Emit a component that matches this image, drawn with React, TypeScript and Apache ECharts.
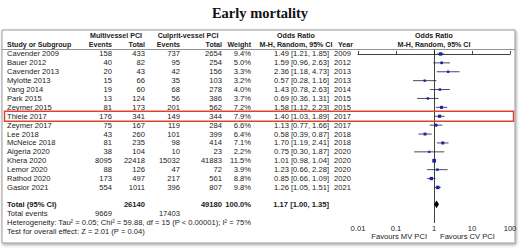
import React, { useEffect, useRef } from "react";
import * as echarts from "echarts";

const studies = ["Cavender 2009","Bauer 2012","Cavender 2013","Mylotte 2013","Yang 2014","Park 2015","Zeymer 2015","Thiele 2017","Zeymer 2017","Lee 2018","McNeice 2018","Algeria 2020","Khera 2020","Lemor 2020","Rathod 2020","Gasior 2021"];
const mvEvents = [158,40,20,15,19,13,81,176,75,43,81,38,8095,88,173,554];
const mvTotal = [433,82,43,66,60,124,173,341,167,260,235,104,22418,126,497,1011];
const cvEvents = [737,95,42,35,68,56,201,149,119,101,98,10,15032,47,217,396];
const cvTotal = [2654,254,156,103,278,386,562,344,284,399,414,23,41883,72,561,807];
const weights = [9.4,5.0,3.3,3.2,4.0,3.7,7.2,7.9,6.6,6.4,7.1,2.2,11.5,3.9,8.8,9.8];
const oddsRatio = [1.49,1.59,2.36,0.57,1.43,0.69,1.58,1.40,1.13,0.58,1.70,0.75,1.01,1.23,0.85,1.26];
const ciLow = [1.21,0.96,1.18,0.28,0.78,0.36,1.12,1.03,0.77,0.39,1.19,0.30,0.98,0.66,0.66,1.05];
const ciHigh = [1.85,2.63,4.73,1.16,2.63,1.31,2.23,1.89,1.66,0.87,2.41,1.87,1.04,2.28,1.09,1.51];
const years = [2009,2012,2013,2013,2014,2015,2015,2017,2017,2018,2018,2020,2020,2020,2020,2021];

const totalLabel = "Total (95% CI)";
const totalMv = 26140;
const totalCv = 49180;
const totalWeight = "100.0%";
const totalOr = 1.17;
const totalLow = 1.0;
const totalHigh = 1.35;
const totalEventsMv = 9669;
const totalEventsCv = 17403;
const heterogeneityText = "Heterogeneity: Tau\u00b2 = 0.05; Chi\u00b2 = 59.88, df = 15 (P < 0.00001); I\u00b2 = 75%";
const overallText = "Test for overall effect: Z = 2.01 (P = 0.04)";
const tickLabels = ["0.01", "0.1", "1", "10", "100"];
const highlighted = "Thiele 2017";

const FONT = '"Liberation Sans", Arial, sans-serif';
const FS = 7.6;
const HFS = 7.1;
const TXT = "#222";

const GRID_TOP = 49.5;
const ROW_H = 8.9;
const Y_MIN = -0.5;
const Y_MAX = 19;
const TOTAL_ROW = 16.9;
const rowY = (i: number) => GRID_TOP + (i - Y_MIN) * ROW_H;

const fmt2 = (v: number) => v.toFixed(2);
const ciText = (o: number, l: number, h: number) => `${fmt2(o)} [${fmt2(l)}, ${fmt2(h)}]`;

function txt(text: string, x: number, y: number, align: string, bold = false, size = FS) {
  return {
    type: "text",
    x,
    y,
    silent: true,
    style: {
      text,
      fontFamily: FONT,
      fontSize: size,
      fontWeight: bold ? "bold" : "normal",
      fill: TXT,
      align,
      verticalAlign: "middle",
    },
  };
}
const head = (text: string, x: number, y: number, align: string) => txt(text, x, y, align, true, HFS);

const COL = {
  name: 7,
  mvE: 112,
  mvT: 145,
  cvE: 180,
  cvT: 222,
  w: 251,
  or: 329,
  year: 334,
};

export default function App() {
  const ref = useRef<HTMLDivElement>(null);
  useEffect(() => {
    if (!ref.current) return;
    const chart = echarts.init(ref.current, undefined, { renderer: "svg" });

    const graphics: any[] = [];
    graphics.push({
      type: "rect",
      z: -10,
      shape: { x: 2, y: 30, width: 513, height: 213 },
      style: { fill: "#fff", stroke: "#9a9a9a", lineWidth: 1, shadowBlur: 3, shadowColor: "rgba(0,0,0,0.35)", shadowOffsetX: 1, shadowOffsetY: 1.5 },
    });
    graphics.push({
      type: "line",
      shape: { x1: 2, y1: GRID_TOP, x2: 515, y2: GRID_TOP },
      style: { stroke: "#777", lineWidth: 0.8 },
    });
    graphics.push({
      type: "text",
      x: 260,
      y: 13,
      style: { text: "Early mortality", fontFamily: '"Liberation Serif", serif', fontSize: 14.5, fontWeight: "bold", fill: "#111", align: "center", verticalAlign: "middle" },
    });
    const h1 = 36, h2 = 45;
    graphics.push(head("Multivessel PCI", 116, h1, "center"));
    graphics.push(head("Culprit-vessel PCI", 188, h1, "center"));
    graphics.push(head("Odds Ratio", 296, h1, "center"));
    graphics.push(head("Odds Ratio", 434, h1, "center"));
    graphics.push(head("Study or Subgroup", COL.name, h2, "left"));
    graphics.push(head("Events", COL.mvE, h2, "right"));
    graphics.push(head("Total", COL.mvT, h2, "right"));
    graphics.push(head("Events", COL.cvE, h2, "right"));
    graphics.push(head("Total", COL.cvT, h2, "right"));
    graphics.push(head("Weight", COL.w, h2, "right"));
    graphics.push(head("M-H, Random, 95% CI", 296, h2, "center"));
    graphics.push(head("Year", 338, h2, "left"));
    graphics.push(head("M-H, Random, 95% CI", 434, h2, "center"));

    studies.forEach((s, i) => {
      const y = rowY(i);
      graphics.push(txt(s, COL.name, y, "left"));
      graphics.push(txt(String(mvEvents[i]), COL.mvE, y, "right"));
      graphics.push(txt(String(mvTotal[i]), COL.mvT, y, "right"));
      graphics.push(txt(String(cvEvents[i]), COL.cvE, y, "right"));
      graphics.push(txt(String(cvTotal[i]), COL.cvT, y, "right"));
      graphics.push(txt(weights[i].toFixed(1) + "%", COL.w, y, "right"));
      graphics.push(txt(ciText(oddsRatio[i], ciLow[i], ciHigh[i]), COL.or, y, "right"));
      graphics.push(txt(String(years[i]), COL.year, y, "left"));
      if (s === highlighted) {
        graphics.push({
          type: "rect",
          z: 100,
          shape: { x: 4.5, y: y - 5, width: 509, height: 10 },
          style: { fill: "none", stroke: "#e2402f", lineWidth: 1.5 },
        });
      }
    });

    const ty = rowY(TOTAL_ROW);
    graphics.push(txt(totalLabel, COL.name, ty, "left", true));
    graphics.push(txt(String(totalMv), COL.mvT, ty, "right", true));
    graphics.push(txt(String(totalCv), COL.cvT, ty, "right", true));
    graphics.push(txt(totalWeight, COL.w, ty, "right", true));
    graphics.push(txt(ciText(totalOr, totalLow, totalHigh), COL.or, ty, "right", true));
    const tey = ty + 9;
    graphics.push(txt("Total events", COL.name, tey, "left"));
    graphics.push(txt(String(totalEventsMv), COL.mvE, tey, "right"));
    graphics.push(txt(String(totalEventsCv), COL.cvE, tey, "right"));
    graphics.push(txt(heterogeneityText, COL.name, tey + 9, "left"));
    graphics.push(txt(overallText, COL.name, tey + 18, "left"));
    graphics.push(txt("Favours MV PCI", 427, 236, "right"));
    graphics.push(txt("Favours CV PCI", 440, 236, "left"));

    const studyData = studies.map((_, i) => [oddsRatio[i], ciLow[i], ciHigh[i], i, weights[i]]);

    chart.setOption({
      animation: false,
      graphic: graphics,
      grid: { left: 358, right: 10, top: GRID_TOP, bottom: 249 - (GRID_TOP + (Y_MAX - Y_MIN) * ROW_H), containLabel: false },
      xAxis: {
        type: "log",
        logBase: 10,
        min: 0.01,
        max: 100,
        axisLine: { show: true, lineStyle: { color: "#111", width: 0.8 } },
        axisTick: { show: true, inside: true, length: 3, lineStyle: { color: "#111", width: 0.8 } },
        splitLine: { show: false },
        minorTick: { show: false },
        axisLabel: {
          fontFamily: FONT,
          fontSize: FS,
          color: TXT,
          margin: 1,
          formatter: (v: number) => tickLabels[Math.round(Math.log10(v)) + 2],
        },
      },
      yAxis: { type: "value", min: Y_MIN, max: Y_MAX, inverse: true, show: false },
      series: [
        {
          type: "custom",
          silent: true,
          data: studyData,
          encode: { x: [0, 1, 2], y: 3 },
          renderItem: (params: any, api: any) => {
            const row = api.value(3);
            const p = api.coord([api.value(0), row]);
            const a = api.coord([api.value(1), row]);
            const b = api.coord([api.value(2), row]);
            const s = 1.8 + api.value(4) * 0.17;
            return {
              type: "group",
              children: [
                { type: "line", shape: { x1: a[0], y1: a[1], x2: b[0], y2: b[1] }, style: { stroke: "#1c1c3a", lineWidth: 0.8 } },
                { type: "rect", shape: { x: p[0] - s / 2, y: p[1] - s / 2, width: s, height: s }, style: { fill: "#1a22a8" } },
              ],
            };
          },
          markLine: {
            silent: true,
            symbol: "none",
            label: { show: false },
            lineStyle: { color: "#111", width: 0.8, type: "solid" },
            data: [{ xAxis: 1 }],
          },
          z: 5,
        },
        {
          type: "custom",
          silent: true,
          data: [[totalOr, totalLow, totalHigh, TOTAL_ROW]],
          encode: { x: [0, 1, 2], y: 3 },
          renderItem: (params: any, api: any) => {
            const row = api.value(3);
            const p = api.coord([api.value(0), row]);
            const a = api.coord([api.value(1), row]);
            const b = api.coord([api.value(2), row]);
            const h = 3.8;
            return {
              type: "polygon",
              shape: { points: [[a[0], a[1]], [p[0], p[1] - h], [b[0], b[1]], [p[0], p[1] + h]] },
              style: { fill: "#000" },
            };
          },
          z: 6,
        },
      ],
    });
    return () => chart.dispose();
  }, []);
  return <div ref={ref} style={{ position: "absolute", left: 0, top: 0, width: 520, height: 249 }} />;
}
